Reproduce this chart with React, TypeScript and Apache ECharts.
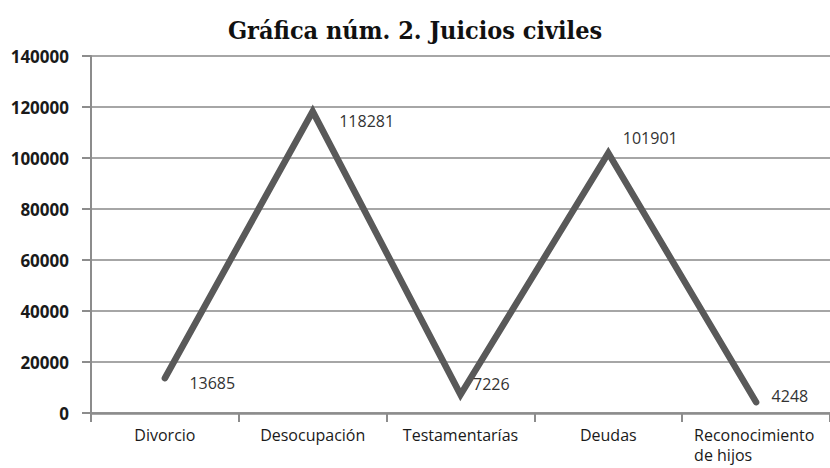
import React, { useEffect, useRef } from "react";
import * as echarts from "echarts";

const categories = ["Divorcio", "Desocupación", "Testamentarías", "Deudas", "Reconocimiento\nde hijos"];
const values = [13685, 118281, 7226, 101901, 4248];
const yTicks = { min: 0, max: 140000, interval: 20000 };
const titleText = "Gráfica núm. 2. Juicios civiles";

const labelOffsets: [number, number][] = [
  [24, 5],
  [26, 10],
  [12, -11],
  [14, -15],
  [15, -6],
];

export default function App() {
  const ref = useRef<HTMLDivElement>(null);
  useEffect(() => {
    document.body.style.margin = "0";
    const chart = echarts.init(ref.current!, null, { renderer: "svg" });
    chart.setOption({
      animation: false,
      backgroundColor: "#ffffff",
      title: {
        text: titleText,
        left: "center",
        top: 13,
        textStyle: {
          fontFamily: "DejaVu Serif Condensed",
          fontWeight: "bold",
          fontSize: 25,
          color: "#111111",
        },
      },
      grid: { left: 91, top: 56, width: 742.5, bottom: 55 },
      xAxis: {
        type: "category",
        data: categories,
        boundaryGap: true,
        axisLine: { show: true, lineStyle: { color: "#8c8c8c", width: 2.5 } },
        axisTick: { show: true, length: 9, alignWithLabel: false, lineStyle: { color: "#8c8c8c", width: 2 } },
        axisLabel: {
          interval: 0,
          margin: 12,
          fontFamily: "Open Sans",
          fontSize: 16,
          color: "#1a1a1a",
          lineHeight: 20,
          formatter: (v: string) =>
            v.indexOf("\n") >= 0
              ? v
                  .split("\n")
                  .map((s) => `{l|${s}}`)
                  .join("\n")
              : v,
          rich: {
            l: {
              fontFamily: "Open Sans",
              fontSize: 16,
              color: "#1a1a1a",
              lineHeight: 20,
              width: 124,
              align: "left",
            },
          },
        },
        splitLine: { show: false },
      },
      yAxis: {
        type: "value",
        min: yTicks.min,
        max: yTicks.max,
        interval: yTicks.interval,
        axisLine: { show: true, lineStyle: { color: "#8c8c8c", width: 2 } },
        axisTick: { show: true, length: 9, lineStyle: { color: "#8c8c8c", width: 2 } },
        axisLabel: {
          margin: 22,
          fontFamily: "Open Sans",
          fontWeight: "bold",
          fontSize: 17,
          color: "#1a1a1a",
          formatter: (v: number) => String(v),
        },
        splitLine: { show: true, lineStyle: { color: "#a6a6a6", width: 2 } },
      },
      series: [
        {
          type: "line",
          data: values.map((v, i) => ({
            value: v,
            label: { offset: labelOffsets[i] },
          })),
          symbol: "circle",
          symbolSize: 1,
          showSymbol: true,
          itemStyle: { color: "rgba(0,0,0,0)", borderWidth: 0 },
          lineStyle: { color: "#595959", width: 6.5, cap: "round", join: "miter" },
          label: {
            show: true,
            position: "right",
            distance: 0,
            fontFamily: "Open Sans",
            fontSize: 16,
            color: "#333333",
          },
        },
      ],
    });
    return () => chart.dispose();
  }, []);
  return <div ref={ref} style={{ width: 830, height: 468 }} />;
}
